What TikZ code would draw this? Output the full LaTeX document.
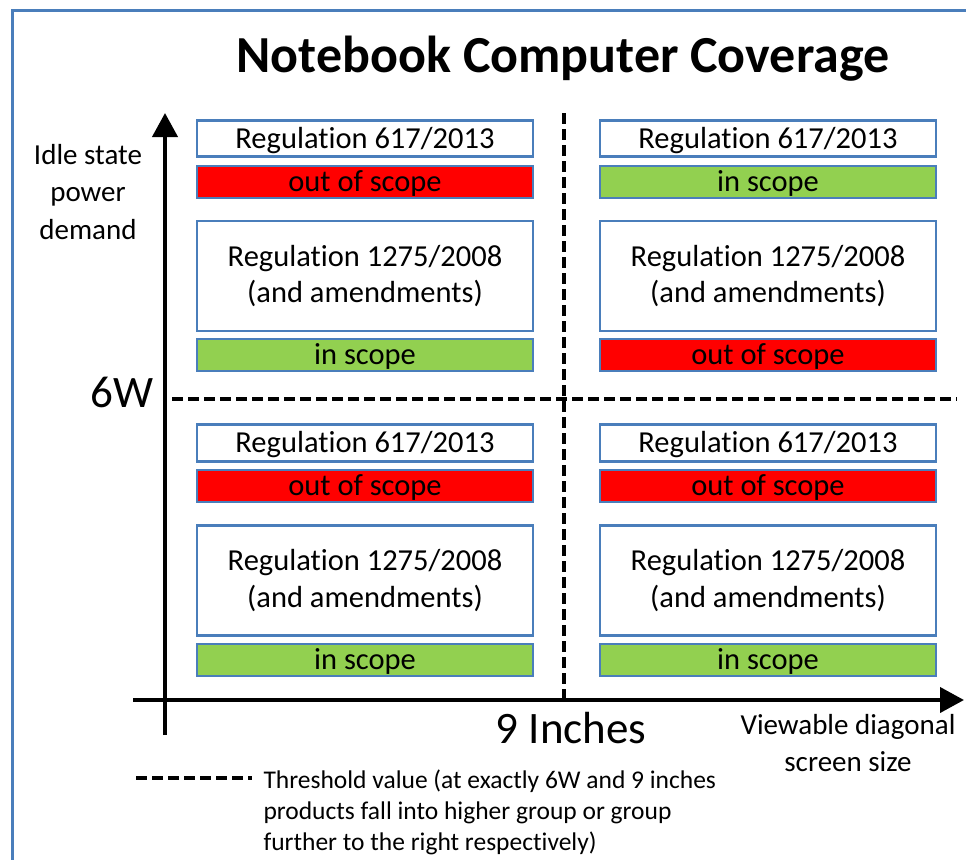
\documentclass[tikz,border=0pt]{standalone}
\usepackage{fontspec}
\setmainfont{Carlito}[Ligatures=NoCommon,RawFeature={-liga;-clig;-calt;-dlig}]
\usetikzlibrary{arrows.meta}
\definecolor{frameblue}{HTML}{4A7EBB}
\definecolor{scopegreen}{HTML}{92D050}
\begin{document}
\begin{tikzpicture}[x=1pt,y=-1pt,>={Triangle[length=24pt,width=25pt]},
  reg/.style={draw=frameblue,line width=2.8pt,fill=white,minimum width=336pt,
    inner sep=0pt,align=center,font=\fontsize{30.5}{36.5}\selectfont},
  inscope/.style={reg,fill=scopegreen,minimum height=32pt,text height=19.5pt,text depth=0pt},
  outscope/.style={reg,fill=red,minimum height=32pt,text height=19.5pt,text depth=0pt},
  threshold/.style={line width=4pt,dash pattern=on 11pt off 5pt},
  axislabel/.style={align=center,font=\fontsize{29}{37.5}\selectfont}]
\useasboundingbox (0,0) rectangle (966,859);
\clip (0,0) rectangle (966,859);
\draw[frameblue,line width=3pt] (12,900) -- (12,11) -- (1000,11);
\node[anchor=base,font=\fontsize{52}{60}\selectfont\bfseries] (title) at (563,73) {Notebook Computer Coverage};

\coordinate (ybot) at (165,735);
\coordinate (ytop) at (165,113);
\coordinate (xleft) at (133,700);
\coordinate (xright) at (964,700);
\coordinate (vtop) at (564,113);
\coordinate (vbot) at (564,700);
\coordinate (hleft) at (172,399);
\coordinate (hright) at (957,399);
\draw[threshold] (vtop) -- (vbot);
\draw[threshold] (hleft) -- (hright);
\draw[->,line width=4pt] (ybot) -- (ytop);
\draw[->,line width=4pt] (xleft) -- (xright);

\node[axislabel] (ylabel) at (88,192) {Idle state\\power\\demand};
\node[axislabel] (xlabel) at (848,743) {Viewable diagonal\\screen size};
\node[anchor=base,font=\fontsize{45}{50}\selectfont] (sixw) at (122,407) {6W};
\node[anchor=base,font=\fontsize{45}{50}\selectfont] (nine) at (571,743) {9 Inches};

\node[reg,minimum height=36.5pt,text height=19.5pt,text depth=0pt] (ulreg) at (365,138.5) {Regulation 617/2013};
\node[outscope] (ulregs) at (365,182) {out of scope};
\node[reg,minimum height=110pt] (uleco) at (365,276) {Regulation 1275/2008\\(and amendments)};
\node[inscope] (ulecos) at (365,355) {in scope};

\node[reg,minimum height=36.5pt,text height=19.5pt,text depth=0pt] (urreg) at (768,138.5) {Regulation 617/2013};
\node[inscope] (urregs) at (768,182) {in scope};
\node[reg,minimum height=110pt] (ureco) at (768,276) {Regulation 1275/2008\\(and amendments)};
\node[outscope] (urecos) at (768,355) {out of scope};

\node[reg,minimum height=36.5pt,text height=19.5pt,text depth=0pt] (llreg) at (365,443) {Regulation 617/2013};
\node[outscope] (llregs) at (365,486) {out of scope};
\node[reg,minimum height=110pt] (lleco) at (365,580.5) {Regulation 1275/2008\\(and amendments)};
\node[inscope] (llecos) at (365,660) {in scope};

\node[reg,minimum height=36.5pt,text height=19.5pt,text depth=0pt] (lrreg) at (768,443) {Regulation 617/2013};
\node[outscope] (lrregs) at (768,486) {out of scope};
\node[reg,minimum height=110pt] (lreco) at (768,580.5) {Regulation 1275/2008\\(and amendments)};
\node[inscope] (lrecos) at (768,660) {in scope};

\coordinate (keyleft) at (136,778);
\coordinate (keyright) at (252,778);
\draw[threshold] (keyleft) -- (keyright);
\node[anchor=west,align=left,font=\fontsize{25.5}{31}\selectfont] (key) at (260,812) {Threshold value (at exactly 6W and 9 inches\\products fall into higher group or group\\further to the right respectively)};
\end{tikzpicture}
\end{document}
